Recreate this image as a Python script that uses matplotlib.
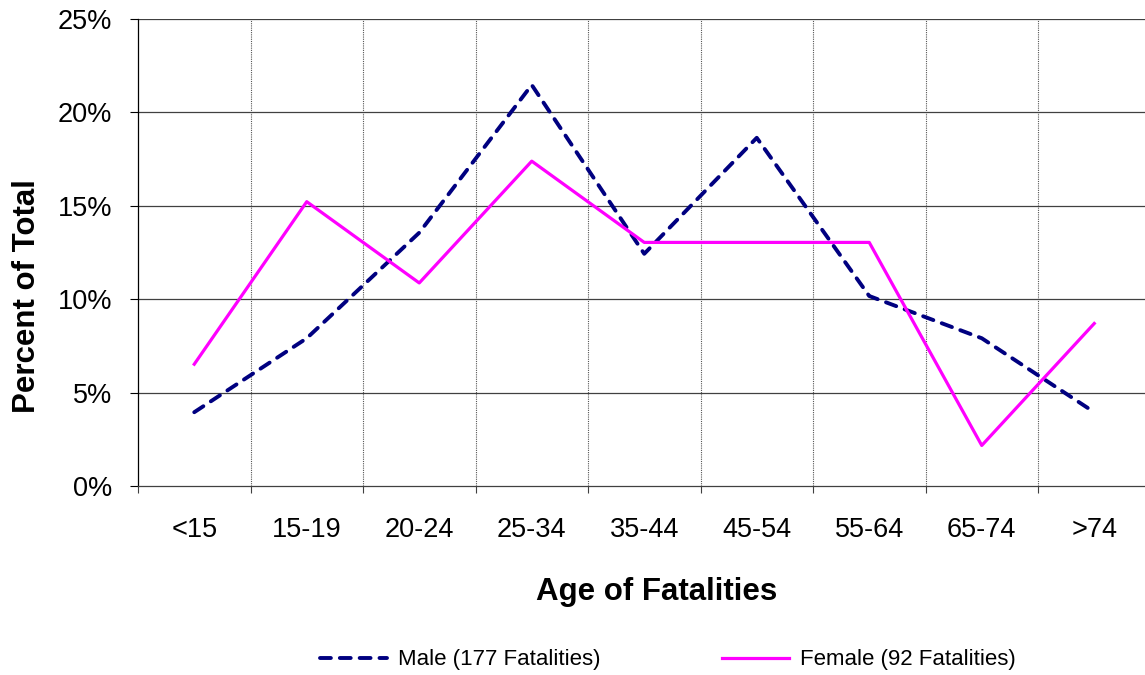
import matplotlib
matplotlib.use("Agg")
import matplotlib.pyplot as plt
from matplotlib.ticker import FixedLocator, PercentFormatter

plt.rcParams['font.family'] = ['Liberation Sans', 'DejaVu Sans']

categories = ['<15', '15-19', '20-24', '25-34', '35-44', '45-54', '55-64', '65-74', '>74']
male = [3.95, 7.91, 13.56, 21.47, 12.43, 18.64, 10.17, 7.91, 3.95]
female = [6.52, 15.22, 10.87, 17.39, 13.04, 13.04, 13.04, 2.17, 8.70]
male_label = 'Male (177 Fatalities)'
female_label = 'Female (92 Fatalities)'
y_ticks = [0, 5, 10, 15, 20, 25]

fig = plt.figure(figsize=(11.45, 6.75), dpi=100)
ax = fig.add_axes([138/1145, (675-486)/675, 1012.5/1145, (486-19)/675])

x = list(range(len(categories)))
ax.plot(x, male, color='#000080', lw=2.8, linestyle=(0, (2.8, 2.3)),
        dash_capstyle='round', label=male_label, zorder=3)
ax.plot(x, female, color='#FF00FF', lw=2.3, label=female_label, zorder=3)

ax.set_xlim(-0.5, len(categories) - 0.5)
ax.set_ylim(0, 25)
ax.set_yticks(y_ticks)
ax.yaxis.set_major_formatter(PercentFormatter(decimals=0))
ax.set_xticks(x)
ax.set_xticklabels(categories)
bounds = [i - 0.5 for i in range(len(categories) + 1)]
ax.xaxis.set_minor_locator(FixedLocator(bounds))
ax.tick_params(axis='x', which='major', length=0, pad=22, labelsize=19.5)
ax.tick_params(axis='x', which='minor', length=5, width=0.8, color='#404040')
ax.tick_params(axis='y', which='major', length=5.8, width=0.8, pad=13, labelsize=19.5)

for b in bounds[1:-1]:
    ax.axvline(b, color='#555555', lw=0.8, linestyle=(0, (1, 1)), zorder=1)
for yv in y_ticks[1:]:
    ax.axhline(yv, color='#404040', lw=0.9, zorder=1)

for s in ['top', 'right']:
    ax.spines[s].set_visible(False)
ax.spines['left'].set_color('#000000')
ax.spines['left'].set_linewidth(0.9)
ax.spines['bottom'].set_color('#404040')
ax.spines['bottom'].set_linewidth(0.9)

ax.set_xlabel('Age of Fatalities', fontsize=22.5, fontweight='bold', labelpad=25)
ax.xaxis.label.set_x(0.512)
ax.set_ylabel('Percent of Total', fontsize=22.5, fontweight='bold', labelpad=11)
ax.yaxis.label.set_y(0.407)

fig.legend(loc='center', bbox_to_anchor=(668/1145, 1 - 660/675), ncol=2, frameon=False,
           fontsize=16, handlelength=3.0, columnspacing=5.5, handletextpad=0.5)

fig.savefig('out.png', dpi=100)
